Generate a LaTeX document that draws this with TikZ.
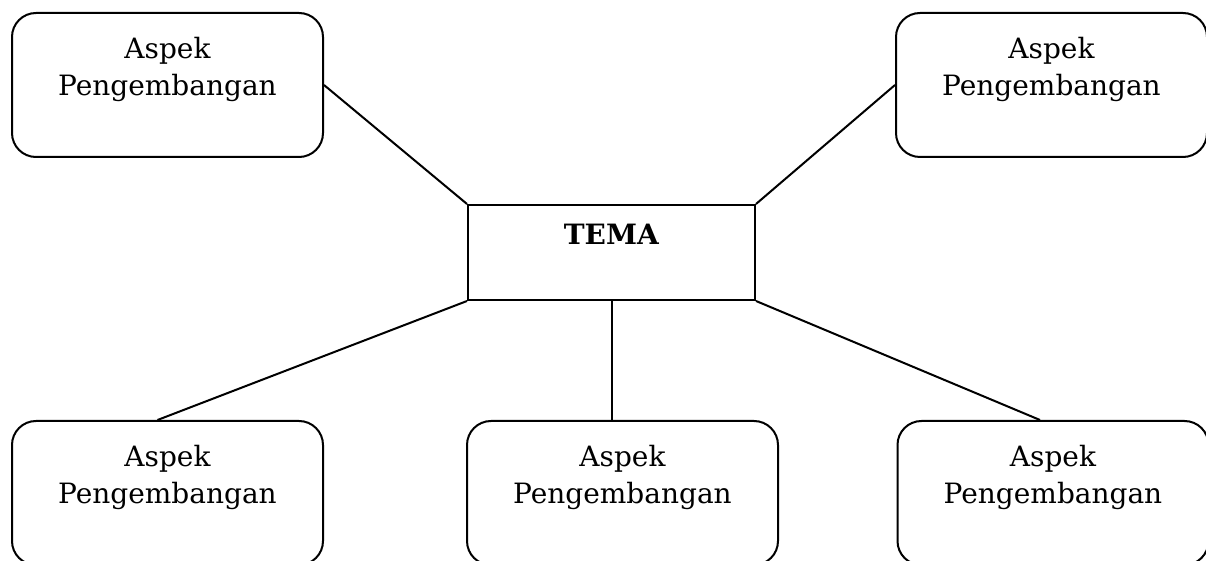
\documentclass[tikz,border=0pt]{standalone}
\usepackage{fontspec}
\setmainfont{DejaVu Serif}
\usetikzlibrary{positioning}
\tikzset{
  aspek/.style={draw,line width=1pt,rounded corners=12pt,minimum width=155.5pt,minimum height=72pt,align=center,font=\fontsize{14}{18.5}\selectfont},
  tema/.style={draw,line width=1pt,minimum width=143.5pt,minimum height=47.5pt,align=center,font=\fontsize{14}{18.5}\selectfont},
}
\begin{document}
\begin{tikzpicture}[x=0.5pt,y=-0.5pt]
      \clip (0,0) rectangle (1206,561);
      \node[tema] (tema) at (611.5,252.5) {\textbf{TEMA}\\~};
      \node[aspek] (tl) at (167.5,85) {Aspek\\Pengembangan\\~};
      \node[aspek] (tr) at (1051.5,85) {Aspek\\Pengembangan\\~};
      \node[aspek] (bl) at (167.5,493) {Aspek\\Pengembangan\\~};
      \node[aspek] (bm) at (622.5,493) {Aspek\\Pengembangan\\~};
      \node[aspek] (br) at (1053,493) {Aspek\\Pengembangan\\~};
      \draw[line width=1pt] (tl.east) -- (tema.north west);
      \draw[line width=1pt] (tr.west) -- (tema.north east);
      \draw[line width=1pt] (tema.south west) -- ([xshift=-5pt]bl.north);
      \draw[line width=1pt] (tema.south) -- (tema.south |- bm.north);
      \draw[line width=1pt] (tema.south east) -- ([xshift=-6.5pt]br.north);
\end{tikzpicture}
\end{document}
